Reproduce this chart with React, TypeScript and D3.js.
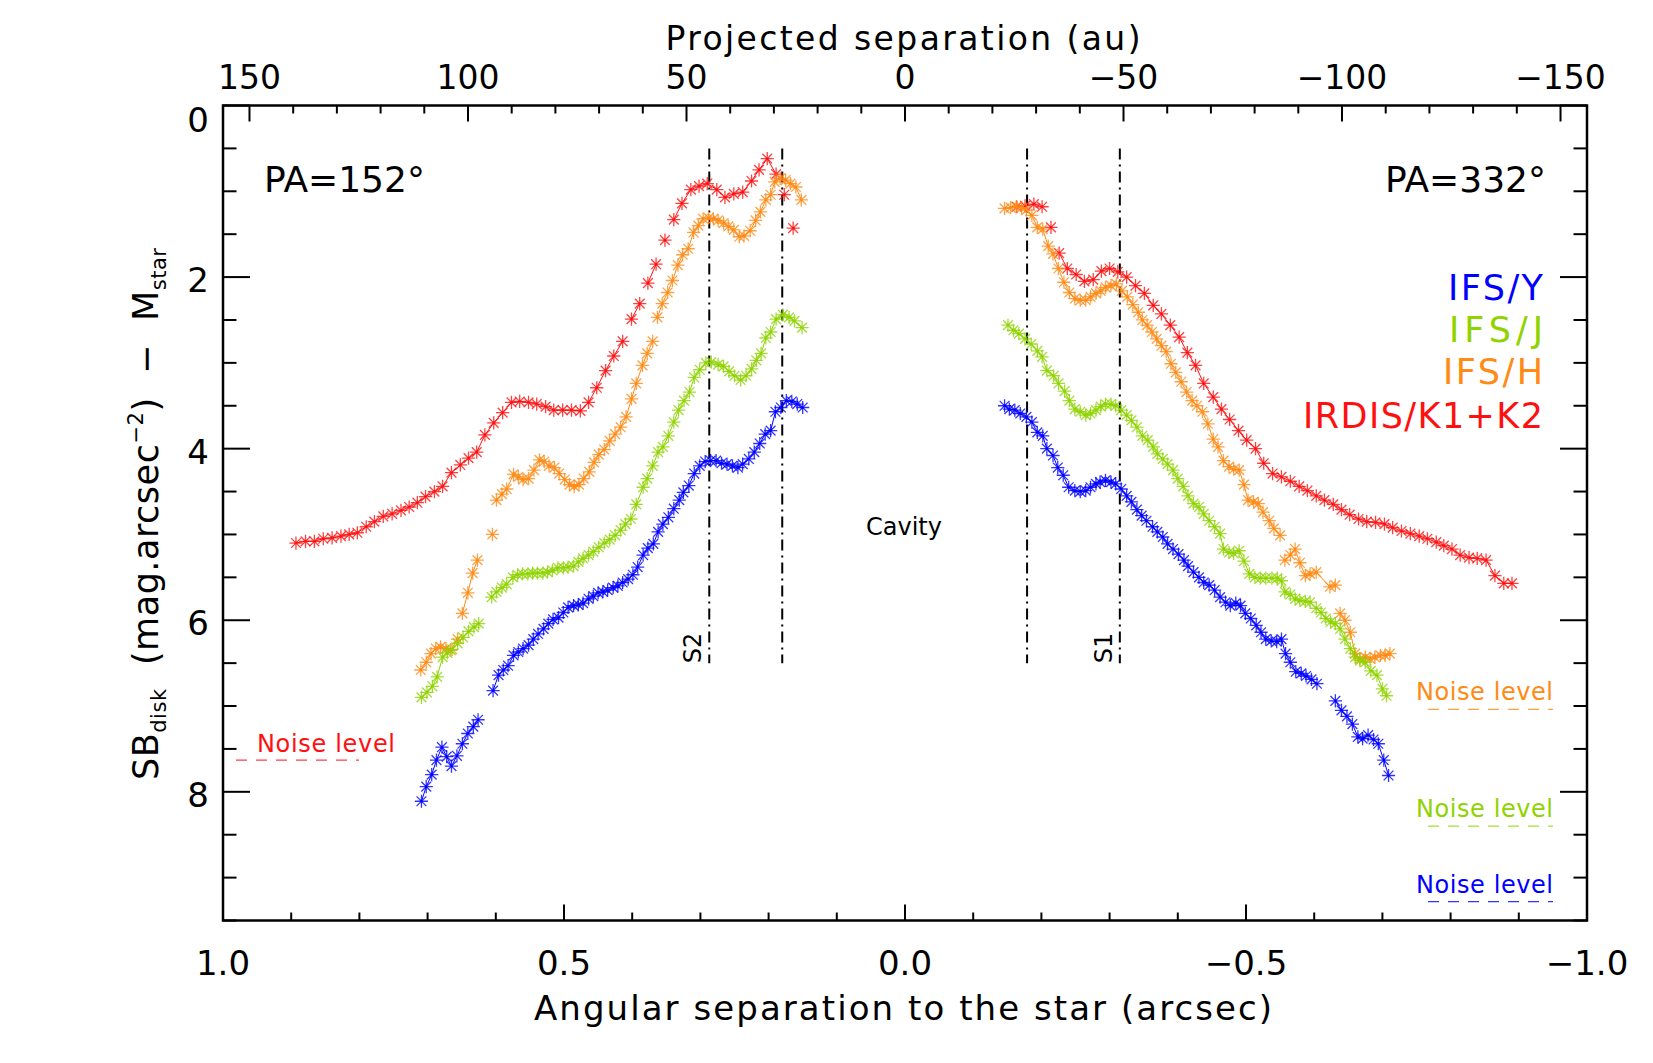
import React from "react";
import * as d3 from "d3";

type P = [number, number];

// ---------- DATA (angular separation in arcsec, SB_disk - M_star in mag) ----------
const irdisK12_PA152: P[] = [
  [0.893, 5.10], [0.879, 5.08], [0.866, 5.08], [0.853, 5.05], [0.840, 5.04], [0.827, 5.02], [0.815, 5.00],
  [0.803, 4.98], [0.790, 4.91], [0.778, 4.85], [0.765, 4.79], [0.752, 4.76], [0.739, 4.72], [0.727, 4.68],
  [0.715, 4.63], [0.703, 4.56], [0.690, 4.50], [0.678, 4.44], [0.665, 4.28], [0.652, 4.19], [0.640, 4.11],
  [0.628, 4.04], [0.616, 3.84], [0.603, 3.70], [0.590, 3.58], [0.577, 3.46], [0.565, 3.45], [0.552, 3.46],
  [0.540, 3.48], [0.527, 3.51], [0.515, 3.55], [0.502, 3.55], [0.489, 3.55], [0.476, 3.56], [0.464, 3.46],
  [0.452, 3.29], [0.439, 3.09], [0.427, 2.92], [0.414, 2.75], [0.401, 2.49], [0.389, 2.31], [0.377, 2.07],
  [0.365, 1.85], [0.352, 1.57], [0.339, 1.33], [0.327, 1.14], [0.314, 0.98], [0.302, 0.94], [0.290, 0.91],
  [0.276, 0.98], [0.264, 1.07], [0.251, 1.03], [0.238, 1.01], [0.225, 0.88], [0.214, 0.75], [0.202, 0.62],
  [0.189, 0.80], [0.177, 1.04], [0.164, 1.43],
];
const irdisK12_PA332: P[] = [
  [-0.164, 1.18], [-0.176, 1.17], [-0.189, 1.15], [-0.201, 1.18], [-0.214, 1.42], [-0.226, 1.72],
  [-0.238, 1.90], [-0.251, 1.97], [-0.263, 2.05], [-0.276, 2.03], [-0.288, 1.93], [-0.300, 1.90],
  [-0.312, 1.94], [-0.325, 2.00], [-0.338, 2.10], [-0.351, 2.19], [-0.364, 2.33], [-0.376, 2.43],
  [-0.389, 2.56], [-0.402, 2.70], [-0.414, 2.88], [-0.426, 3.03], [-0.438, 3.24], [-0.452, 3.40],
  [-0.464, 3.54], [-0.476, 3.66], [-0.489, 3.79], [-0.501, 3.90], [-0.514, 4.00], [-0.526, 4.17],
  [-0.539, 4.29], [-0.552, 4.33], [-0.565, 4.38], [-0.578, 4.44], [-0.590, 4.49], [-0.603, 4.55],
  [-0.615, 4.60], [-0.628, 4.65], [-0.640, 4.71], [-0.652, 4.77], [-0.665, 4.82], [-0.677, 4.85],
  [-0.690, 4.86], [-0.703, 4.88], [-0.715, 4.92], [-0.728, 4.96], [-0.741, 4.99], [-0.754, 5.02],
  [-0.766, 5.05], [-0.779, 5.09], [-0.790, 5.13], [-0.802, 5.17], [-0.814, 5.24], [-0.827, 5.27],
  [-0.839, 5.28], [-0.852, 5.30], [-0.865, 5.48], [-0.878, 5.57], [-0.890, 5.57],
];
const ifsH_PA152: P[] = [
  [0.710, 6.58], [0.702, 6.49], [0.695, 6.39], [0.688, 6.33], [0.681, 6.31], [0.673, 6.33], [0.666, 6.35],
  [0.656, 6.22], [0.649, 5.92], [0.641, 5.68], [0.634, 5.45], [0.627, 5.30], [0.605, 5.00], [0.599, 4.60],
  [0.591, 4.53], [0.584, 4.47], [0.574, 4.30], [0.567, 4.33], [0.560, 4.36], [0.552, 4.35], [0.544, 4.25],
  [0.536, 4.13], [0.529, 4.15], [0.522, 4.20], [0.514, 4.22], [0.507, 4.29], [0.499, 4.36], [0.492, 4.42],
  [0.485, 4.44], [0.478, 4.42], [0.471, 4.35], [0.463, 4.27], [0.456, 4.16], [0.449, 4.07], [0.441, 4.01],
  [0.433, 3.91], [0.425, 3.83], [0.417, 3.75], [0.409, 3.63], [0.401, 3.42], [0.394, 3.24], [0.385, 3.03],
  [0.378, 2.89], [0.370, 2.75], [0.363, 2.47], [0.356, 2.31], [0.348, 2.18], [0.341, 2.04], [0.333, 1.86],
  [0.326, 1.74], [0.318, 1.67], [0.310, 1.48], [0.303, 1.40], [0.296, 1.32], [0.288, 1.31], [0.281, 1.32],
  [0.274, 1.34], [0.266, 1.37], [0.259, 1.41], [0.251, 1.45], [0.243, 1.53], [0.236, 1.52], [0.227, 1.46],
  [0.219, 1.34], [0.212, 1.24], [0.204, 1.10], [0.197, 1.04], [0.191, 0.89], [0.183, 0.85], [0.175, 0.87],
  [0.168, 0.91], [0.160, 0.95], [0.152, 1.10],
];
const ifsH_PA332: P[] = [
  [-0.146, 1.20], [-0.155, 1.19], [-0.163, 1.18], [-0.171, 1.19], [-0.178, 1.22], [-0.186, 1.28],
  [-0.194, 1.42], [-0.202, 1.44], [-0.210, 1.64], [-0.217, 1.73], [-0.225, 1.90], [-0.233, 2.06],
  [-0.241, 2.18], [-0.249, 2.25], [-0.257, 2.27], [-0.265, 2.27], [-0.272, 2.23], [-0.280, 2.19],
  [-0.287, 2.16], [-0.294, 2.12], [-0.302, 2.10], [-0.310, 2.08], [-0.318, 2.16], [-0.326, 2.23],
  [-0.334, 2.32], [-0.342, 2.41], [-0.348, 2.50], [-0.355, 2.56], [-0.362, 2.64], [-0.369, 2.72],
  [-0.376, 2.80], [-0.383, 2.87], [-0.390, 3.01], [-0.397, 3.11], [-0.405, 3.22], [-0.413, 3.34],
  [-0.421, 3.44], [-0.428, 3.50], [-0.436, 3.57], [-0.444, 3.71], [-0.452, 3.89], [-0.459, 3.98],
  [-0.467, 4.14], [-0.475, 4.21], [-0.482, 4.24], [-0.490, 4.25], [-0.497, 4.42], [-0.503, 4.60],
  [-0.511, 4.62], [-0.518, 4.64], [-0.525, 4.74], [-0.534, 4.84], [-0.541, 4.93], [-0.550, 5.01],
  [-0.557, 5.30], [-0.565, 5.24], [-0.572, 5.17], [-0.579, 5.33], [-0.587, 5.48], [-0.594, 5.46],
  [-0.603, 5.44], [-0.623, 5.61], [-0.631, 5.59], [-0.638, 5.92], [-0.645, 6.00], [-0.653, 6.14],
  [-0.660, 6.39], [-0.667, 6.45], [-0.675, 6.43], [-0.682, 6.45], [-0.689, 6.43], [-0.697, 6.41],
  [-0.704, 6.41], [-0.711, 6.39],
];
const ifsJ_PA152: P[] = [
  [0.709, 6.90], [0.701, 6.84], [0.693, 6.77], [0.686, 6.66], [0.678, 6.43], [0.671, 6.38], [0.664, 6.34],
  [0.656, 6.27], [0.648, 6.20], [0.640, 6.13], [0.632, 6.08], [0.625, 6.04], [0.606, 5.73], [0.599, 5.67],
  [0.591, 5.62], [0.584, 5.58], [0.575, 5.50], [0.568, 5.47], [0.561, 5.46], [0.553, 5.46], [0.546, 5.45],
  [0.539, 5.45], [0.531, 5.45], [0.524, 5.44], [0.517, 5.42], [0.509, 5.39], [0.501, 5.39], [0.494, 5.38],
  [0.486, 5.37], [0.479, 5.32], [0.472, 5.28], [0.464, 5.24], [0.457, 5.20], [0.449, 5.15], [0.441, 5.10],
  [0.433, 5.06], [0.425, 5.01], [0.417, 4.95], [0.410, 4.88], [0.402, 4.82], [0.394, 4.65], [0.384, 4.45],
  [0.378, 4.35], [0.370, 4.20], [0.362, 4.04], [0.355, 3.98], [0.347, 3.85], [0.339, 3.69], [0.332, 3.55],
  [0.324, 3.44], [0.316, 3.34], [0.309, 3.17], [0.301, 3.08], [0.292, 3.00], [0.284, 2.99], [0.274, 3.02],
  [0.266, 3.04], [0.258, 3.10], [0.250, 3.15], [0.241, 3.20], [0.233, 3.15], [0.225, 3.07], [0.218, 2.97],
  [0.211, 2.89], [0.204, 2.71], [0.197, 2.64], [0.189, 2.49], [0.179, 2.44], [0.170, 2.47], [0.162, 2.51],
  [0.151, 2.59],
];
const ifsJ_PA332: P[] = [
  [-0.151, 2.56], [-0.159, 2.62], [-0.167, 2.66], [-0.176, 2.72], [-0.185, 2.78], [-0.194, 2.86],
  [-0.201, 2.93], [-0.208, 3.09], [-0.218, 3.15], [-0.225, 3.24], [-0.234, 3.33], [-0.241, 3.44],
  [-0.249, 3.54], [-0.257, 3.57], [-0.265, 3.61], [-0.272, 3.59], [-0.280, 3.55], [-0.287, 3.51],
  [-0.294, 3.48], [-0.302, 3.48], [-0.309, 3.50], [-0.317, 3.55], [-0.325, 3.61], [-0.332, 3.67],
  [-0.340, 3.75], [-0.348, 3.85], [-0.356, 3.90], [-0.364, 3.98], [-0.370, 4.06], [-0.378, 4.12],
  [-0.385, 4.18], [-0.393, 4.25], [-0.400, 4.35], [-0.408, 4.44], [-0.415, 4.55], [-0.423, 4.64],
  [-0.431, 4.68], [-0.438, 4.76], [-0.446, 4.84], [-0.454, 4.91], [-0.462, 4.99], [-0.467, 5.17],
  [-0.475, 5.21], [-0.482, 5.22], [-0.490, 5.19], [-0.497, 5.31], [-0.505, 5.46], [-0.513, 5.50],
  [-0.521, 5.51], [-0.529, 5.51], [-0.538, 5.51], [-0.546, 5.51], [-0.552, 5.54], [-0.557, 5.67],
  [-0.565, 5.70], [-0.572, 5.75], [-0.579, 5.77], [-0.587, 5.78], [-0.594, 5.79], [-0.603, 5.86],
  [-0.610, 5.91], [-0.617, 5.98], [-0.624, 6.02], [-0.631, 6.04], [-0.638, 6.10], [-0.645, 6.22],
  [-0.653, 6.33], [-0.660, 6.43], [-0.667, 6.47], [-0.675, 6.49], [-0.683, 6.59], [-0.692, 6.64],
  [-0.700, 6.80], [-0.706, 6.88],
];
const ifsY_PA152: P[] = [
  [0.709, 8.11], [0.702, 7.94], [0.694, 7.80], [0.687, 7.63], [0.679, 7.48], [0.672, 7.59], [0.665, 7.70],
  [0.657, 7.58], [0.649, 7.44], [0.641, 7.32], [0.633, 7.24], [0.626, 7.16], [0.604, 6.82], [0.596, 6.64],
  [0.589, 6.58], [0.582, 6.53], [0.574, 6.41], [0.567, 6.37], [0.560, 6.33], [0.552, 6.29], [0.545, 6.22],
  [0.538, 6.16], [0.530, 6.10], [0.523, 6.04], [0.516, 5.99], [0.508, 5.97], [0.501, 5.91], [0.494, 5.85],
  [0.486, 5.83], [0.479, 5.82], [0.472, 5.80], [0.464, 5.75], [0.457, 5.72], [0.450, 5.68], [0.443, 5.67],
  [0.436, 5.65], [0.428, 5.62], [0.421, 5.60], [0.414, 5.56], [0.406, 5.52], [0.399, 5.47], [0.392, 5.38],
  [0.384, 5.24], [0.377, 5.16], [0.369, 5.11], [0.362, 4.97], [0.355, 4.88], [0.347, 4.80], [0.339, 4.70],
  [0.331, 4.60], [0.325, 4.51], [0.317, 4.43], [0.309, 4.29], [0.301, 4.20], [0.293, 4.15], [0.285, 4.14],
  [0.277, 4.14], [0.269, 4.17], [0.261, 4.18], [0.253, 4.20], [0.245, 4.22], [0.238, 4.18], [0.229, 4.12],
  [0.221, 4.04], [0.213, 3.94], [0.205, 3.83], [0.197, 3.79], [0.190, 3.57], [0.182, 3.52], [0.174, 3.44],
  [0.166, 3.45], [0.158, 3.48], [0.150, 3.52],
];
const ifsY_PA332: P[] = [
  [-0.146, 3.50], [-0.153, 3.54], [-0.161, 3.55], [-0.169, 3.59], [-0.178, 3.63], [-0.186, 3.69],
  [-0.194, 3.81], [-0.202, 3.85], [-0.208, 4.00], [-0.217, 4.08], [-0.224, 4.22], [-0.232, 4.31],
  [-0.240, 4.45], [-0.249, 4.49], [-0.257, 4.50], [-0.265, 4.49], [-0.272, 4.45], [-0.280, 4.41],
  [-0.286, 4.39], [-0.294, 4.37], [-0.302, 4.39], [-0.309, 4.41], [-0.317, 4.47], [-0.325, 4.55],
  [-0.332, 4.62], [-0.340, 4.71], [-0.347, 4.78], [-0.354, 4.84], [-0.363, 4.91], [-0.370, 4.97],
  [-0.378, 5.03], [-0.385, 5.11], [-0.393, 5.17], [-0.401, 5.23], [-0.409, 5.30], [-0.415, 5.37],
  [-0.423, 5.44], [-0.431, 5.50], [-0.438, 5.56], [-0.446, 5.59], [-0.454, 5.65], [-0.462, 5.73],
  [-0.470, 5.79], [-0.477, 5.83], [-0.485, 5.80], [-0.492, 5.83], [-0.499, 5.92], [-0.507, 5.98],
  [-0.515, 6.06], [-0.522, 6.14], [-0.529, 6.22], [-0.537, 6.24], [-0.545, 6.25], [-0.552, 6.22],
  [-0.558, 6.39], [-0.565, 6.49], [-0.573, 6.60], [-0.581, 6.62], [-0.588, 6.65], [-0.596, 6.69],
  [-0.604, 6.74], [-0.631, 6.94], [-0.640, 7.05], [-0.648, 7.12], [-0.656, 7.21], [-0.664, 7.36],
  [-0.671, 7.38], [-0.679, 7.34], [-0.687, 7.39], [-0.694, 7.44], [-0.702, 7.63], [-0.709, 7.81],
];

const bandNames = ["IFS/Y", "IFS/J", "IFS/H", "IRDIS/K1+K2"];
const bandColors = ["#0000ff", "#8fd300", "#ff8a14", "#ff1010"];
const noiseLevels = [9.28, 8.40, 7.04, 7.63]; // mag, same order as bandNames
const ringSeparations = [0.287, 0.180, -0.179, -0.315]; // arcsec, dash-dot markers
const ringLabels = ["S2", "", "", "S1"];
const xTicksMajor = [1.0, 0.5, 0.0, -0.5, -1.0];
const auTicksMajor = [150, 100, 50, 0, -50, -100, -150];
const yTicksMajor = [0, 2, 4, 6, 8];
const AU_PER_ARCSEC = 156.06;

// ---------- LAYOUT ----------
const W = 1653;
const H = 1063;
const PL = 223, PR = 1587, PT = 105.5, PB = 920.5;
const FONT = "'DejaVu Sans', sans-serif";

const x = d3.scaleLinear().domain([1, -1]).range([PL, PR]);
const xAu = d3.scaleLinear().domain([AU_PER_ARCSEC, -AU_PER_ARCSEC]).range([PL, PR]);
const y = d3.scaleLinear().domain([0, 9.5]).range([PT, PB]);

const fmt = (v: number, digits: number) => {
  const s = Math.abs(v).toFixed(digits);
  return v < 0 ? "\u2212" + s : s;
};

function splitSegments(pts: P[]): P[][] {
  const segs: P[][] = [];
  let cur: P[] = [];
  pts.forEach((p, i) => {
    if (i > 0) {
      const q = pts[i - 1];
      const d = Math.hypot(x(p[0]) - x(q[0]), y(p[1]) - y(q[1]));
      if (d > 22) {
        segs.push(cur);
        cur = [];
      }
    }
    cur.push(p);
  });
  segs.push(cur);
  return segs;
}

const lineGen = d3
  .line<P>()
  .x((d) => x(d[0]))
  .y((d) => y(d[1]));

const R = 6.6;
const D = R * 0.74;
const asterisk = `M${-R},0H${R}M0,${-R}V${R}M${-D},${-D}L${D},${D}M${-D},${D}L${D},${-D}`;

function Series({ data, color }: { data: P[]; color: string }) {
  return (
    <g>
      {splitSegments(data).map((seg, i) => (
        <path key={"l" + i} d={lineGen(seg) || ""} fill="none" stroke={color} strokeWidth={1} />
      ))}
      {data.map((p, i) => (
        <g key={i} transform={`translate(${x(p[0])},${y(p[1])})`}>
          <path d={asterisk} stroke={color} strokeWidth={1.3} strokeOpacity={0.8} fill="none" />
          <circle r={1.3} fill={color} />
        </g>
      ))}
    </g>
  );
}

export default function App() {
  const seriesDraw = [
    { data: [irdisK12_PA152, irdisK12_PA332], color: bandColors[3] },
    { data: [ifsH_PA152, ifsH_PA332], color: bandColors[2] },
    { data: [ifsJ_PA152, ifsJ_PA332], color: bandColors[1] },
    { data: [ifsY_PA152, ifsY_PA332], color: bandColors[0] },
  ];

  const xMinor = d3.range(-10, 11).map((i) => i / 10);
  const auMinor = d3.range(-15, 16).map((i) => i * 10);
  const yMinor = d3.range(0, 20).map((i) => i * 0.5);

  const legendBaselines = [300, 342, 384, 428];
  const legendWidths = [95, 94, 100, 240];
  const sub = 21;

  return (
    <div style={{ position: "absolute", left: 0, top: 0 }}>
      <svg width={W} height={H} style={{ display: "block", background: "#fff" }} fontFamily={FONT}>
        <rect x={0} y={0} width={W} height={H} fill="#fff" />

        {/* dash-dot ring markers */}
        {ringSeparations.map((s, i) => (
          <line
            key={"v" + i}
            x1={x(s)}
            x2={x(s)}
            y1={y(0.5)}
            y2={y(6.5)}
            stroke="#000"
            strokeWidth={2}
            strokeDasharray="11,5,2,5"
          />
        ))}
        {ringSeparations.map((s, i) =>
          ringLabels[i] ? (
            <text
              key={"rl" + i}
              transform={`translate(${x(s) - 8},${y(6.5)}) rotate(-90)`}
              fontSize={24}
              fill="#000"
            >
              {ringLabels[i]}
            </text>
          ) : null
        )}

        {/* data series */}
        {seriesDraw.map((s, i) => (
          <g key={"s" + i}>
            <Series data={s.data[0]} color={s.color} />
            <Series data={s.data[1]} color={s.color} />
          </g>
        ))}

        {/* noise levels */}
        <line x1={236} x2={359} y1={y(noiseLevels[3])} y2={y(noiseLevels[3])} stroke={bandColors[3]} strokeWidth={1.3} strokeDasharray="11,9" strokeOpacity={0.8} />
        <text x={257} y={y(noiseLevels[3]) - 8} fontSize={24} fill={bandColors[3]} textLength={138} lengthAdjust="spacing">Noise level</text>
        {[2, 1, 0].map((bi) => (
          <g key={"n" + bi}>
            <line x1={1428} x2={1553} y1={y(noiseLevels[bi])} y2={y(noiseLevels[bi])} stroke={bandColors[bi]} strokeWidth={1.3} strokeDasharray="11,9" strokeOpacity={0.8} />
            <text x={1553} y={y(noiseLevels[bi]) - 9} fontSize={24} textAnchor="end" fill={bandColors[bi]} textLength={137} lengthAdjust="spacing">Noise level</text>
          </g>
        ))}

        {/* annotations */}
        <text x={904} y={535} fontSize={24} textAnchor="middle" fill="#000">Cavity</text>
        <text x={264} y={192} fontSize={36} fill="#000">PA=152°</text>
        <text x={1546} y={192} fontSize={36} textAnchor="end" fill="#000">PA=332°</text>

        {/* legend */}
        {bandNames.map((n, i) => (
          <text
            key={"lg" + i}
            x={1543}
            y={legendBaselines[i]}
            fontSize={35}
            textAnchor="end"
            fill={bandColors[i]}
            textLength={legendWidths[i]}
            lengthAdjust="spacing"
          >
            {n}
          </text>
        ))}

        {/* frame */}
        <rect x={PL} y={PT} width={PR - PL} height={PB - PT} fill="none" stroke="#000" strokeWidth={2.5} />

        {/* bottom axis ticks */}
        {xMinor.map((v, i) => {
          const major = Math.abs(v * 2 - Math.round(v * 2)) < 1e-9;
          const len = major ? 16 : 8;
          return (
            <line key={"bx" + i} x1={x(v)} x2={x(v)} y1={PB} y2={PB - len} stroke="#000" strokeWidth={2} />
          );
        })}
        {xTicksMajor.map((v, i) => (
          <text key={"bxl" + i} x={x(v)} y={975} fontSize={34} textAnchor="middle" fill="#000">
            {fmt(v, 1)}
          </text>
        ))}

        {/* top axis ticks (au) */}
        {auMinor.map((v, i) => {
          const major = v % 50 === 0;
          const len = major ? 16 : 8;
          return (
            <line key={"tx" + i} x1={xAu(v)} x2={xAu(v)} y1={PT} y2={PT + len} stroke="#000" strokeWidth={2} />
          );
        })}
        {auTicksMajor.map((v, i) => (
          <text key={"txl" + i} x={xAu(v)} y={89} fontSize={33} textAnchor="middle" fill="#000">
            {fmt(v, 0)}
          </text>
        ))}

        {/* left / right axis ticks */}
        {yMinor.map((v, i) => {
          const major = v % 2 === 0;
          const len = major ? 27 : 13.5;
          return (
            <g key={"ly" + i}>
              <line x1={PL} x2={PL + len} y1={y(v)} y2={y(v)} stroke="#000" strokeWidth={2} />
              <line x1={PR} x2={PR - len} y1={y(v)} y2={y(v)} stroke="#000" strokeWidth={2} />
            </g>
          );
        })}
        {yTicksMajor.map((v, i) => (
          <text key={"lyl" + i} x={209} y={y(v) + (v === 0 ? 26 : 15)} fontSize={34} textAnchor="end" fill="#000">
            {String(v)}
          </text>
        ))}

        {/* axis titles */}
        <text x={903} y={50} fontSize={33} textAnchor="middle" fill="#000" textLength={475} lengthAdjust="spacing">
          Projected separation (au)
        </text>
        <text x={903} y={1020} fontSize={34} textAnchor="middle" fill="#000" textLength={738} lengthAdjust="spacing">
          Angular separation to the star (arcsec)
        </text>
        <text
          transform={`translate(158,514) rotate(-90)`}
          fontSize={35}
          textAnchor="middle"
          fill="#000"
          textLength={532}
          lengthAdjust="spacing"
        >
          <tspan>SB</tspan>
          <tspan fontSize={sub} dy={8}>disk</tspan>
          <tspan dy={-8}>{"\u00a0\u00a0(mag.arcsec"}</tspan>
          <tspan fontSize={sub} dy={-15}>{"\u22122"}</tspan>
          <tspan dy={15}>{")\u00a0\u00a0\u2212\u00a0\u00a0M"}</tspan>
          <tspan fontSize={sub} dy={8}>star</tspan>
        </text>
      </svg>
    </div>
  );
}
